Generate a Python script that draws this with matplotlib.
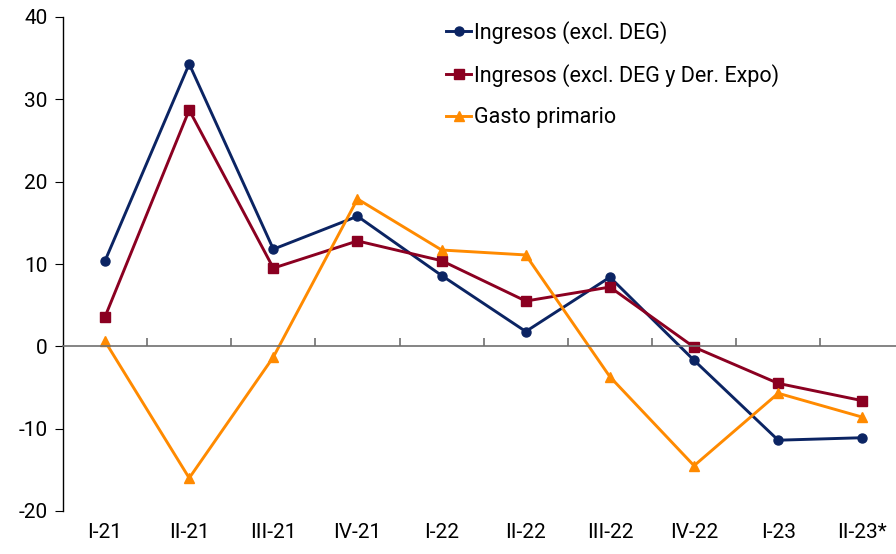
import matplotlib.pyplot as plt
import numpy as np

plt.rcParams['font.family'] = ['Roboto', 'DejaVu Sans']
plt.rcParams['axes.unicode_minus'] = False

# datos (% variación)
trimestres = ['I-21', 'II-21', 'III-21', 'IV-21', 'I-22', 'II-22', 'III-22', 'IV-22', 'I-23', 'II-23*']
ingresos = [10.4, 34.3, 11.8, 15.8, 8.6, 1.8, 8.4, -1.7, -11.4, -11.1]
ingresos_sin_expo = [3.6, 28.7, 9.5, 12.8, 10.4, 5.5, 7.2, -0.1, -4.5, -6.6]
gasto_primario = [0.6, -16.0, -1.3, 17.9, 11.7, 11.1, -3.7, -14.5, -5.7, -8.6]

x = np.arange(len(trimestres))

fig = plt.figure(figsize=(8.96, 5.54), dpi=100)
ax = fig.add_axes([63 / 896, 1 - 511 / 554, 1 - 63 / 896, (511 - 17) / 554])

ax.plot(x, ingresos, color='#0B2463', lw=2.1, marker='o', ms=6.5, label='Ingresos (excl. DEG)')
ax.plot(x, ingresos_sin_expo, color='#8B0021', lw=2.1, marker='s', ms=6.5, label='Ingresos (excl. DEG y Der. Expo)')
ax.plot(x, gasto_primario, color='#FF8A00', lw=2.1, marker='^', ms=7, label='Gasto primario')

ax.set_ylim(-20, 40)
ax.set_yticks(range(-20, 41, 10))
ax.set_xlim(-0.5, 9.4)

# eje x en cero con marcas en los límites de cada trimestre
ax.spines['top'].set_visible(False)
ax.spines['right'].set_visible(False)
ax.spines['bottom'].set_position(('data', 0))
ax.spines['bottom'].set_color('#707070')
ax.spines['bottom'].set_linewidth(1.2)
ax.spines['left'].set_linewidth(1.0)
ax.set_xticks(x[:-1] + 0.5)
ax.set_xticklabels([])
ax.tick_params(axis='x', direction='in', length=6, color='#707070', width=1.2)
ax.tick_params(axis='y', direction='out', length=6, labelsize=15, pad=5)

sec = ax.secondary_xaxis(0)
sec.set_xticks(x)
sec.set_xticklabels(trimestres)
sec.spines['bottom'].set_visible(False)
sec.tick_params(length=0, labelsize=15, pad=9)

ax.legend(loc='upper left', bbox_to_anchor=(437 / 896, 1 - 12 / 554), bbox_transform=fig.transFigure,
          frameon=False, fontsize=15.5, handlelength=1.2, handletextpad=0.1, labelspacing=0.95,
          borderaxespad=0)

plt.savefig('out.png', dpi=100)
